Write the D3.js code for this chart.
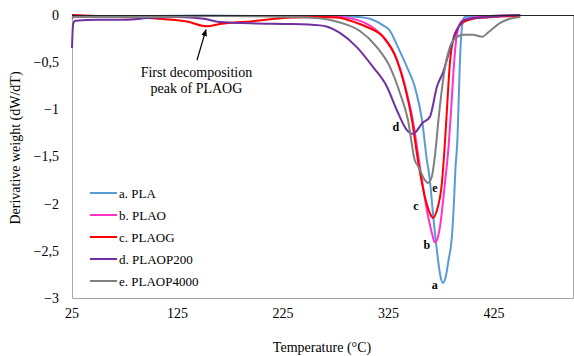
<!DOCTYPE html>
<html>
<head>
<meta charset="utf-8">
<script src="https://cdn.jsdelivr.net/npm/d3@7"></script>
<style>
    body { margin: 0; background: #fff; }
</style>
</head>
<body>
<div id="dtg" style="width:574px;height:356px"></div>
<script>
// series names, colours and point labels
const seriesNames = ['a. PLA', 'b. PLAO', 'c. PLAOG', 'd. PLAOP200', 'e. PLAOP4000'];
const seriesColors = ['#5B9BD5', '#FF33CC', '#FF0000', '#7030A0', '#7F7F7F'];

const xTicks = [25, 125, 225, 325, 425];
const yTicks = [0, -0.5, -1, -1.5, -2, -2.5, -3];

// [temperature, dW/dT]
const pla = [[25,-0.01],[60,-0.01],[100,-0.01],[150,-0.005],[200,-0.01],[250,-0.01],[279,-0.01],[295,-0.02],
    [310,-0.05],[320,-0.11],[326,-0.16],[334,-0.34],[342.5,-0.55],[350,-0.76],[356.8,-1.11],[361.5,-1.54],
    [364.3,-1.75],[367.2,-2.1],[371,-2.5],[374.5,-2.78],[376.7,-2.84],[379,-2.79],[382,-2.6],[385.2,-2.35],
    [387.1,-1.99],[388.5,-1.64],[390.5,-1.3],[392.8,-0.48],[395.6,-0.06],[397.5,-0.02],[420,-0.01],[450,0]];

const plao = [[25,-0.01],[100,-0.01],[200,-0.01],[260,-0.01],[280,-0.02],[300,-0.07],[310,-0.13],[320,-0.23],
    [333,-0.47],[341,-0.76],[348,-1.11],[354.9,-1.61],[361.5,-2.07],[366.2,-2.31],[369,-2.41],[371.5,-2.37],
    [373.8,-2.25],[378.6,-1.78],[382,-1.4],[384.5,-1.0],[387,-0.55],[390,-0.2],[395,-0.06],[410,-0.02],[450,0]];

const plaog = [[25,0],[70.5,-0.02],[101.8,-0.035],[134,-0.07],[153,-0.12],[165,-0.095],[196.6,-0.065],
    [228.8,-0.03],[260,-0.02],[279,-0.03],[285.7,-0.05],[304.6,-0.127],[319.8,-0.23],[333.1,-0.48],
    [340.6,-0.76],[347.3,-1.11],[353,-1.54],[359.6,-1.93],[364.3,-2.1],[367.2,-2.15],[371,-2.07],
    [375.7,-1.78],[378,-1.45],[380.5,-1.0],[383,-0.55],[388,-0.2],[397,-0.07],[412,-0.03],[450,-0.01]];

const plaop200 = [[25,-0.35],[26,-0.1],[28,-0.06],[50,-0.05],[75,-0.05],[100,-0.03],[125,-0.02],[150,-0.04],
    [165,-0.075],[200,-0.09],[229,-0.095],[260,-0.11],[267,-0.124],[279,-0.19],[295,-0.34],[310.3,-0.55],
    [323.6,-0.76],[333,-1.01],[342.5,-1.22],[348.2,-1.26],[357.7,-1.14],[364.3,-1.08],[371,-0.76],
    [376.7,-0.61],[383.3,-0.37],[389.9,-0.16],[397.5,-0.05],[420,-0.02],[450,0]];

const plaop4000 = [[25,-0.04],[27,-0.02],[100,-0.02],[165,-0.01],[230,-0.02],[260,-0.035],[279,-0.08],
    [298,-0.17],[314,-0.34],[326.4,-0.55],[336,-0.83],[343.5,-1.11],[350,-1.54],[353,-1.6],[359.6,-1.75],
    [362.4,-1.78],[366,-1.72],[369,-1.5],[373,-1.05],[378,-0.6],[383,-0.35],[389,-0.24],[396,-0.21],
    [405,-0.21],[414,-0.23],[420,-0.18],[430.7,-0.085],[440,-0.04],[450,-0.02]];

const seriesData = [pla, plao, plaog, plaop200, plaop4000];

// curve letters: [letter, temperature, value]
const pointLabels = [['a',369,-2.86],['b',361.5,-2.44],['c',351,-2.02],['d',332,-1.19],['e',369,-1.83]];

// arrow: tail and tip in data units, then note text
const arrowPts = [[143.5,-0.48],[152,-0.155]];
const noteLines = ['First decomposition', 'peak of PLAOG'];
const noteAt = [143, -0.6];

const serif = '"Liberation Serif", "DejaVu Serif", "Times New Roman", serif';

class DtgChart {
    constructor(){
        this.size = { width: 574, height: 356, left: 72, right: 573, top: 15, bottom: 298 };
        this.drawPlot()
    }

    drawPlot(){
        this.svg = d3.select('#dtg').append('svg')
            .attr('width', this.size.width)
            .attr('height', this.size.height)
            .attr('font-family', serif)
            .style('font-family', serif)

        this.x = d3.scaleLinear().domain([25, 500]).range([this.size.left, this.size.right])
        this.y = d3.scaleLinear().domain([0, -3]).range([this.size.top, this.size.bottom])

        this.drawAxis()
        this.drawLines()
        this.drawLegend()
        this.drawText()
    }

    drawAxis(){
        let s = this.size;
        let g = this.svg.append('g');

        // plot frame (left, right, bottom) in grey
        g.append('path')
            .attr('d', `M${s.left + 0.5},${this.y(0)}V${this.y(-3) + 0.5}H${s.right + 0.5}V${this.y(0)}`)
            .attr('fill', 'none').attr('stroke', '#a6a6a6').attr('stroke-width', 1)

        g.selectAll('.ytick').data(yTicks).join('text')
            .attr('x', s.left - 13)
            .attr('y', d => this.y(d))
            .attr('dy', '0.35em')
            .attr('text-anchor', 'end')
            .style('font-size', '14px')
            .text(d => d3.format('')(d).replace('.', ','))

        g.selectAll('.xtick').data(xTicks).join('text')
            .attr('x', d => this.x(d))
            .attr('y', this.y(-3) + 15)
            .attr('dy', '0.35em')
            .attr('text-anchor', 'middle')
            .style('font-size', '14px')
            .text(d => d)

        this.svg.append('text')
            .attr('transform', `translate(15,148) rotate(-90)`)
            .attr('text-anchor', 'middle')
            .attr('dy', '0.35em')
            .style('font-size', '14px')
            .text('Derivative weight (dW/dT)')

        this.svg.append('text')
            .attr('x', 322).attr('y', 347)
            .attr('dy', '0.35em')
            .attr('text-anchor', 'middle')
            .style('font-size', '14px')
            .text('Temperature (°C)')
    }

    drawLines(){
        let line = d3.line()
            .x(d => this.x(d[0]))
            .y(d => this.y(d[1]))
            .curve(d3.curveMonotoneX)

        this.svg.append('g').selectAll('path')
            .data(seriesData)
            .join('path')
            .attr('d', line)
            .attr('fill', 'none')
            .attr('stroke', (d, i) => seriesColors[i])
            .attr('stroke-width', 2)
            .attr('stroke-linejoin', 'round')

        // zero axis on top, dark
        this.svg.append('line')
            .attr('x1', this.size.left).attr('x2', this.size.right + 1)
            .attr('y1', this.y(0) + 0.5).attr('y2', this.y(0) + 0.5)
            .attr('stroke', '#262626').attr('stroke-width', 1.2)
    }

    drawLegend(){
        let lg = this.svg.append('g')
            .selectAll('g')
            .data(seriesNames)
            .join('g')
            .attr('transform', (d, i) => `translate(90,${193 + i * 22})`)

        lg.append('line')
            .attr('x1', 0).attr('x2', 27)
            .attr('stroke', (d, i) => seriesColors[i])
            .attr('stroke-width', 2)

        lg.append('text')
            .attr('x', 29)
            .attr('dy', '0.35em')
            .style('font-size', '13px')
            .text(d => d)
    }

    drawText(){
        this.svg.append('g').selectAll('text')
            .data(pointLabels)
            .join('text')
            .attr('x', d => this.x(d[1]))
            .attr('y', d => this.y(d[2]))
            .attr('dy', '0.35em')
            .attr('text-anchor', 'middle')
            .style('font-size', '12px')
            .style('font-weight', 'bold')
            .text(d => d[0])

        this.svg.append('defs').append('marker')
            .attr('id', 'arrowhead')
            .attr('viewBox', '0 0 10 10')
            .attr('refX', 9).attr('refY', 5)
            .attr('markerWidth', 6).attr('markerHeight', 6)
            .attr('orient', 'auto')
            .append('path')
            .attr('d', 'M0,1L10,5L0,9Z')
            .attr('fill', '#000')

        this.svg.append('line')
            .attr('x1', this.x(arrowPts[0][0])).attr('y1', this.y(arrowPts[0][1]))
            .attr('x2', this.x(arrowPts[1][0])).attr('y2', this.y(arrowPts[1][1]))
            .attr('stroke', '#000').attr('stroke-width', 1.2)
            .attr('marker-end', 'url(#arrowhead)')

        this.svg.append('g').selectAll('text')
            .data(noteLines)
            .join('text')
            .attr('x', this.x(noteAt[0]))
            .attr('y', (d, i) => this.y(noteAt[1]) + 16 * i)
            .attr('dy', '0.35em')
            .attr('text-anchor', 'middle')
            .style('font-size', '14px')
            .text(d => d)
    }
}

new DtgChart()
</script>
</body>
</html>
